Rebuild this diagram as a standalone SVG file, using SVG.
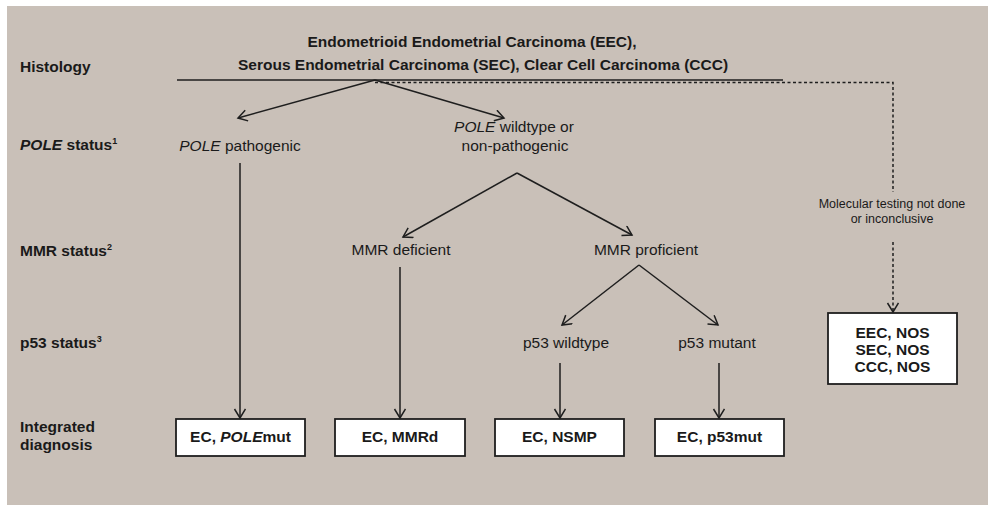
<svg xmlns="http://www.w3.org/2000/svg" width="988" height="505" viewBox="0 0 988 505">
<style>
text{font-family:"Liberation Sans",Arial,sans-serif;fill:#1a1a1a;font-size:15.5px}
.b{font-weight:bold}
.m{text-anchor:middle}
.s{font-size:12.5px}
.ln{stroke:#1e1e1e;stroke-width:1.5;fill:none}
.d{stroke:#1e1e1e;stroke-width:1.5;fill:none;stroke-dasharray:3,2.5}
.box{fill:#fff;stroke:#1e1e1e;stroke-width:1.8}
</style>
<defs>
<marker id="ah" markerUnits="userSpaceOnUse" markerWidth="14" markerHeight="14" refX="10" refY="6" orient="auto">
<path d="M1,0.5 L10,6 L1,11.5" fill="none" stroke="#1e1e1e" stroke-width="1.5"/>
</marker>
</defs>
<rect x="0" y="0" width="988" height="505" fill="#fff"/>
<rect x="7" y="6" width="981" height="499" fill="#c9c0b8"/>

<g id="labels">
<text x="20" y="72" class="b">Histology</text>
<text x="20" y="150" class="b"><tspan font-style="italic">POLE</tspan> status<tspan font-size="9" dy="-6">1</tspan></text>
<text x="20" y="256" class="b">MMR status<tspan font-size="9" dy="-6">2</tspan></text>
<text x="20" y="348" class="b">p53 status<tspan font-size="9" dy="-6">3</tspan></text>
<text x="20" y="432" class="b">Integrated</text>
<text x="20" y="450" class="b">diagnosis</text>
</g>

<g id="histology">
<text x="472" y="47" class="b m">Endometrioid Endometrial Carcinoma (EEC),</text>
<text x="483" y="70" class="b m">Serous Endometrial Carcinoma (SEC), Clear Cell Carcinoma (CCC)</text>
</g>

<g id="pole-path"><text x="240" y="151" class="m"><tspan font-style="italic">POLE</tspan> pathogenic</text></g>
<g id="pole-wt">
<text x="514" y="132" class="m"><tspan font-style="italic">POLE</tspan> wildtype or</text>
<text x="515" y="151" class="m">non-pathogenic</text>
</g>
<g id="mmr-def"><text x="401" y="255" class="m">MMR deficient</text></g>
<g id="mmr-prof"><text x="646" y="255" class="m">MMR proficient</text></g>
<g id="p53-wt"><text x="566" y="348" class="m">p53 wildtype</text></g>
<g id="p53-mut"><text x="717" y="348" class="m">p53 mutant</text></g>
<g id="not-done">
<text x="892" y="208" class="m s">Molecular testing not done</text>
<text x="892" y="223" class="m s">or inconclusive</text>
</g>

<g id="box-pole"><rect x="176" y="419" width="129" height="37" class="box"/><text x="240.5" y="442" class="b m">EC, <tspan font-style="italic">POLE</tspan>mut</text></g>
<g id="box-mmrd"><rect x="335" y="419" width="130" height="37" class="box"/><text x="400" y="442" class="b m">EC, MMRd</text></g>
<g id="box-nsmp"><rect x="495" y="419" width="129" height="37" class="box"/><text x="559.5" y="442" class="b m">EC, NSMP</text></g>
<g id="box-p53"><rect x="655" y="419" width="129" height="37" class="box"/><text x="719.5" y="442" class="b m">EC, p53mut</text></g>
<g id="box-nos"><rect x="828" y="313" width="129" height="71" class="box"/>
<text x="892.5" y="338" class="b m">EEC, NOS</text>
<text x="892.5" y="355" class="b m">SEC, NOS</text>
<text x="892.5" y="372" class="b m">CCC, NOS</text>
</g>

<g id="connectors">
<line x1="177" y1="80" x2="783" y2="80" class="ln"/>
<polyline points="375,82.5 893,82.5 893,192" class="d"/>
<line x1="893" y1="242" x2="893" y2="312" class="d" marker-end="url(#ah)"/>
<line x1="375" y1="80" x2="238" y2="118" class="ln" marker-end="url(#ah)"/>
<line x1="375" y1="80" x2="504" y2="118" class="ln" marker-end="url(#ah)"/>
<line x1="240" y1="163" x2="240" y2="418" class="ln" marker-end="url(#ah)"/>
<line x1="517" y1="173" x2="403" y2="237" class="ln" marker-end="url(#ah)"/>
<line x1="517" y1="173" x2="632" y2="235" class="ln" marker-end="url(#ah)"/>
<line x1="400" y1="267" x2="400" y2="418" class="ln" marker-end="url(#ah)"/>
<line x1="639" y1="265" x2="562" y2="325" class="ln" marker-end="url(#ah)"/>
<line x1="639" y1="265" x2="718" y2="325" class="ln" marker-end="url(#ah)"/>
<line x1="560" y1="363" x2="560" y2="418" class="ln" marker-end="url(#ah)"/>
<line x1="719" y1="363" x2="719" y2="418" class="ln" marker-end="url(#ah)"/>
</g>
</svg>
